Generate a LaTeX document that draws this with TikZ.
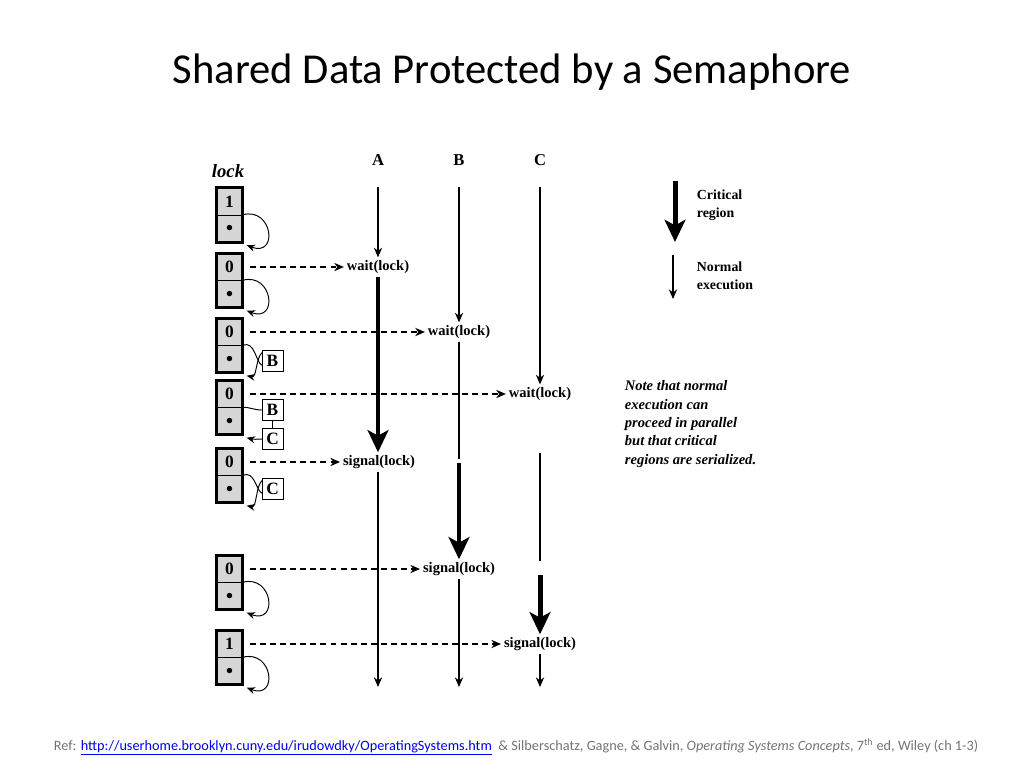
\documentclass[tikz,border=0pt]{standalone}
\usepackage{fontspec}
\setmainfont{Liberation Serif}
\newfontfamily\slidefont{Carlito}
\usetikzlibrary{arrows.meta}
\definecolor{lockgray}{gray}{0.84}
\definecolor{footgray}{gray}{0.45}
\definecolor{linkblue}{rgb}{0.0,0.0,0.93}

\begin{document}
\begin{tikzpicture}[x=0.01in,y=-0.01in]
\tikzset{
  lockval/.style={rectangle,draw,fill=lockgray,minimum width=18.7pt,minimum height=19.44pt,inner sep=0pt,font=\bfseries\fontsize{12.5}{12.5}\selectfont},
  lockdot/.style={lockval,font=\fontsize{10}{10}\selectfont},
  lockframe/.style={line width=2.2pt},
  qbox/.style={rectangle,draw,fill=white,minimum width=15pt,minimum height=15.5pt,inner sep=0pt,font=\bfseries\fontsize{12.5}{12.5}\selectfont},
  qline/.style={line width=0.7pt,-{Stealth[length=6pt,width=5pt]}},
  qlink/.style={line width=0.7pt},
  oplabel/.style={inner sep=2pt,font=\bfseries\fontsize{10.5}{10.5}\selectfont},
  proclabel/.style={font=\bfseries\fontsize{12}{12}\selectfont},
  normalrun/.style={line width=0.75pt,-{Stealth[length=7pt,width=6pt]}},
  plainrun/.style={line width=0.75pt},
  critrun/.style={line width=3.6pt,-{Stealth[length=16pt,width=15pt,inset=4pt]}},
  semline/.style={line width=0.75pt,dash pattern=on 4.3pt off 3pt,-{Stealth[length=7pt,width=6pt]},shorten <=5pt},
  legtext/.style={anchor=west,align=left,font=\bfseries\fontsize{10}{13}\selectfont},
  notetext/.style={anchor=north west,align=left,font=\bfseries\itshape\fontsize{10.5}{13.2}\selectfont}
}
\useasboundingbox (0,0) rectangle (1024,768);

\node[font=\slidefont\fontsize{30.8}{31}\selectfont] (title) at (512,72) {Shared Data Protected by a Semaphore};

% semaphore states
\node[font=\bfseries\itshape\fontsize{13.5}{13.5}\selectfont] (lk_title) at (228,171) {lock};
\node[lockval] (lk_v_1) at (229.5,201.5) {1};
\node[lockdot] (lk_d_1) at (229.5,228.5) {$\bullet$};
\node[lockval] (lk_v_2) at (229.5,267) {0};
\node[lockdot] (lk_d_2) at (229.5,294) {$\bullet$};
\node[lockval] (lk_v_3) at (229.5,332) {0};
\node[lockdot] (lk_d_3) at (229.5,359) {$\bullet$};
\node[lockval] (lk_v_4) at (229.5,394) {0};
\node[lockdot] (lk_d_4) at (229.5,421) {$\bullet$};
\node[lockval] (lk_v_5) at (229.5,462) {0};
\node[lockdot] (lk_d_5) at (229.5,489) {$\bullet$};
\node[lockval] (lk_v_6) at (229.5,569) {0};
\node[lockdot] (lk_d_6) at (229.5,596) {$\bullet$};
\node[lockval] (lk_v_7) at (229.5,644) {1};
\node[lockdot] (lk_d_7) at (229.5,671) {$\bullet$};
\draw[lockframe] (lk_v_1.north west) rectangle (lk_d_1.south east);
\draw[lockframe] (lk_v_2.north west) rectangle (lk_d_2.south east);
\draw[lockframe] (lk_v_3.north west) rectangle (lk_d_3.south east);
\draw[lockframe] (lk_v_4.north west) rectangle (lk_d_4.south east);
\draw[lockframe] (lk_v_5.north west) rectangle (lk_d_5.south east);
\draw[lockframe] (lk_v_6.north west) rectangle (lk_d_6.south east);
\draw[lockframe] (lk_v_7.north west) rectangle (lk_d_7.south east);

% empty queues
\draw[qline] (lk_d_1.north east) .. controls +(30,-8) and +(32,12) .. ([shift={(4,3)}]lk_d_1.south east);
\draw[qline] (lk_d_2.north east) .. controls +(30,-8) and +(32,12) .. ([shift={(4,3)}]lk_d_2.south east);
\draw[qline] (lk_d_6.north east) .. controls +(30,-8) and +(32,12) .. ([shift={(4,3)}]lk_d_6.south east);
\draw[qline] (lk_d_7.north east) .. controls +(30,-8) and +(32,12) .. ([shift={(4,3)}]lk_d_7.south east);

% waiting processes
\node[qbox] (q_b_3) at (272.5,361) {B};
\node[qbox] (q_b_4) at (272.5,410) {B};
\node[qbox] (q_c_4) at (272.5,439) {C};
\node[qbox] (q_c_5) at (272.5,489) {C};
\draw[qlink] (lk_d_3.north east) .. controls +(12,-5) and +(-6,-3) .. ([yshift=-3]q_b_3.west);
\draw[qline] ([yshift=6]q_b_3.west) .. controls +(-6,6) and +(10,2) .. ([shift={(4,3)}]lk_d_3.south east);
\draw[qlink] (lk_d_4.north east) .. controls +(8,0) and +(-8,0) .. (q_b_4.west);
\draw[qlink] (q_b_4) -- (q_c_4);
\draw[qline] (q_c_4.west) .. controls +(-6,0) and +(8,2) .. ([shift={(4,3)}]lk_d_4.south east);
\draw[qlink] (lk_d_5.north east) .. controls +(12,-5) and +(-6,-3) .. ([yshift=-3]q_c_5.west);
\draw[qline] ([yshift=6]q_c_5.west) .. controls +(-6,6) and +(10,2) .. ([shift={(4,3)}]lk_d_5.south east);

% processes
\node[proclabel] (p_a) at (378,160) {A};
\node[proclabel] (p_b) at (459,160) {B};
\node[proclabel] (p_c) at (540,160) {C};
\coordinate (a_top) at (378,187);
\coordinate (b_top) at (459,187);
\coordinate (c_top) at (540,187);
\coordinate (a_end) at (378,687);
\coordinate (b_end) at (459,687);
\coordinate (c_end) at (540,687);
\coordinate (b_1) at (459,459);
\coordinate (b_2) at (459,463);
\coordinate (c_1) at (540,453);
\coordinate (c_2) at (540,561);
\coordinate (c_3) at (540,575);
\node[oplabel] (w_a) at (378,267) {wait(lock)};
\node[oplabel] (w_b) at (459,332) {wait(lock)};
\node[oplabel] (w_c) at (540,394) {wait(lock)};
\node[oplabel] (s_a) at (379,462) {signal(lock)};
\node[oplabel] (s_b) at (459,569) {signal(lock)};
\node[oplabel] (s_c) at (540,644) {signal(lock)};
\draw[normalrun] (a_top) -- (w_a);
\draw[critrun] (w_a.south -| a_top) -- (s_a.north -| a_top);
\draw[normalrun] (s_a.south -| a_top) -- (a_end);
\draw[normalrun] (b_top) -- (w_b);
\draw[plainrun] (w_b) -- (b_1);
\draw[critrun] (b_2) -- (s_b);
\draw[normalrun] (s_b) -- (b_end);
\draw[normalrun] (c_top) -- (w_c);
\draw[plainrun] (c_1) -- (c_2);
\draw[critrun] (c_3) -- (s_c);
\draw[normalrun] (s_c) -- (c_end);

% lock operations
\draw[semline] (lk_v_2) -- (w_a);
\draw[semline] (lk_v_3) -- (w_b);
\draw[semline] (lk_v_4) -- (w_c);
\draw[semline] (lk_v_5) -- (s_a);
\draw[semline] (lk_v_6) -- (s_b);
\draw[semline] (lk_v_7) -- (s_c);

% legend
\coordinate (lg_c0) at (675,181);
\coordinate (lg_c1) at (675,242);
\coordinate (lg_n0) at (673,255);
\coordinate (lg_n1) at (673,299);
\draw[critrun] (lg_c0) -- (lg_c1);
\draw[normalrun] (lg_n0) -- (lg_n1);
\node[legtext] (lg_ct) at (692,205) {Critical\\region};
\node[legtext] (lg_nt) at (692,276) {Normal\\execution};
\node[notetext] (note) at (620,376) {Note that normal\\execution can\\proceed in parallel\\but that critical\\regions are serialized.};

\node[font=\slidefont\fontsize{10.3}{12}\selectfont,text=footgray] (ref) at (516,747) {Ref: \textcolor{linkblue}{\underline{http://userhome.brooklyn.cuny.edu/irudowdky/OperatingSystems.htm}}\ \ \& Silberschatz, Gagne, \& Galvin, \textit{Operating Systems Concepts}, 7\textsuperscript{th} ed, Wiley (ch 1-3)};
\end{tikzpicture}
\end{document}
